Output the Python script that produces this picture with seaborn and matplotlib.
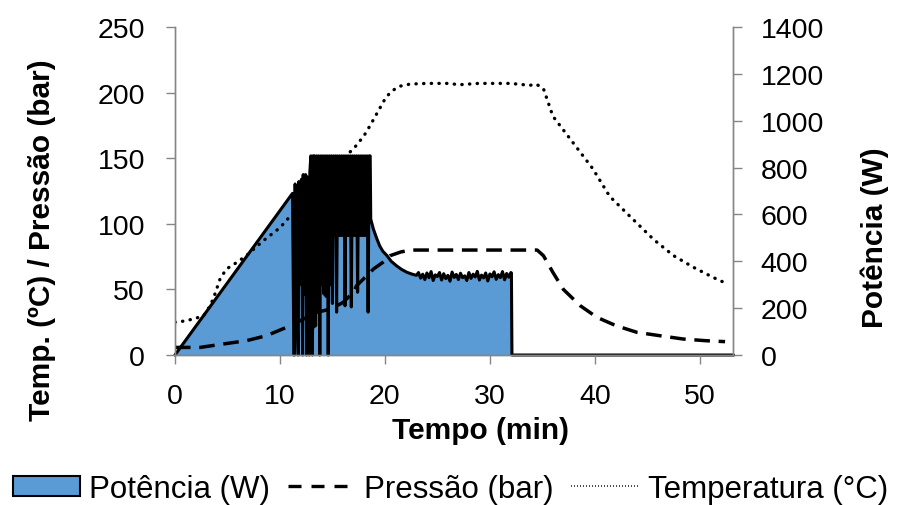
import matplotlib
matplotlib.use("Agg")
import matplotlib.pyplot as plt
from matplotlib.patches import Patch
from matplotlib.lines import Line2D
import seaborn as sns

# ── Data ──────────────────────────────────────────────────────────────────
# Temperatura (°C), left axis
temp_t = [0, 1, 2, 2.7, 3.0, 3.65, 4.3, 4.9, 5.9, 6.8, 8.4, 10, 11, 12, 13, 14, 15,
          16, 17, 18, 18.6, 19.3, 20, 20.5, 21, 21.5, 22.4, 24, 26, 27.1, 28.9, 30,
          32, 33.8, 34.4, 35.1, 36, 37.9, 39.8, 41.4, 43.3, 45.6, 47.5, 49.4, 51.3, 52.4]
temp_v = [25, 26, 28, 30, 32.5, 42.7, 58, 65.5, 70.6, 75.7, 87, 97, 106, 115, 124, 133, 142,
          150, 157, 167, 175, 185, 195, 200, 203, 205, 206.5, 207, 207, 206, 207, 207,
          207, 205.5, 206.5, 203, 182, 162, 142, 121, 106, 88, 75.7, 66.8, 59, 55]

# Pressão (bar), left axis
pres_t = [0, 2.4, 4.6, 6.8, 8.7, 10.6, 11, 13.5, 14.8, 16, 17, 17.3, 18.6, 18.9, 19.8,
          20.5, 21.5, 22.4, 25, 28, 31, 34.5, 35.1, 36, 37, 38.6, 40.2, 42, 44, 46.2,
          48.4, 50.6, 52.4]
pres_v = [5.8, 5.8, 8.4, 10.9, 14.7, 21, 22.4, 32.5, 35, 40, 47.8, 52.8, 63, 65.5, 70.6,
          75.7, 78.5, 80, 80, 80, 80, 80, 75.7, 63, 50, 37.6, 28.7, 22.4, 17.3, 14.7,
          12.2, 10.9, 10.2]

# Potência (W), right axis
pow_t = [0.0, 11.2, 11.33, 11.38, 11.45, 11.6, 11.75, 11.8, 11.9, 12.05, 12.16, 12.22,
         12.3, 12.45, 12.54, 12.6, 12.7, 12.79, 12.85, 12.95, 13.1, 13.16, 13.25,
         13.3, 13.4, 13.5, 13.6, 13.7, 13.8, 13.9, 14.0, 14.1, 14.2, 14.3, 14.4, 14.5,
         14.6, 14.7, 14.8, 14.9, 15.0, 15.1, 15.2, 15.3, 15.4, 15.5, 15.6, 15.7, 15.8,
         15.9, 16.0, 16.1, 16.2, 16.3, 16.4, 16.5, 16.6, 16.7, 16.8, 16.9, 17.0, 17.1,
         17.2, 17.3, 17.4, 17.5, 17.6, 17.7, 17.8, 17.9, 18.0, 18.1, 18.2, 18.3, 18.4,
         18.5, 18.6,
         18.65, 18.9, 19.2, 19.5, 19.8, 20.2, 20.6, 21.1, 21.6, 22.1, 22.6, 23.0,
         23.2, 23.4, 23.6, 23.8, 24.0, 24.2, 24.4, 24.6, 24.8, 25.0, 25.2, 25.4, 25.6,
         25.8, 26.0, 26.2, 26.4, 26.6, 26.8, 27.0, 27.2, 27.4, 27.6, 27.8, 28.0, 28.2,
         28.4, 28.6, 28.8, 29.0, 29.2, 29.4, 29.6, 29.8, 30.0, 30.2, 30.4, 30.6, 30.8,
         31.0, 31.2, 31.4, 31.6, 31.8, 32.0, 32.05, 32.1, 53.2]
pow_v = [0, 690, 0, 0, 730, 200, 0, 740, 300, 750, 0, 770, 260, 770, 0, 760, 330, 0, 780,
         850, 0, 850, 120,
         850, 125, 850, 196, 850, 0, 850, 300, 850, 260, 850, 250, 850,
         0, 850, 300, 850, 220, 850, 510, 850, 183, 850, 510, 850, 510,
         850, 510, 850, 210, 850, 510, 850, 510, 850, 205, 850, 510, 850,
         510, 850, 268, 850, 510, 850, 510, 850, 510, 850, 510, 850, 183,
         850, 850,
         580, 538, 500, 466, 443, 424, 400, 381, 365, 353, 345, 340,
         352, 328, 345, 322, 350, 330, 356, 318, 342, 335, 352, 320, 347,
         326, 340, 315, 354, 331, 344, 322, 349, 330, 338, 318, 352, 327,
         345, 333, 357, 320, 341, 329, 350, 316, 346, 334, 355, 323, 343,
         330, 356, 321, 348, 332, 352, 350, 0, 0]

x_ticks = [0, 10, 20, 30, 40, 50]
left_ticks = [0, 50, 100, 150, 200, 250]
right_ticks = [0, 200, 400, 600, 800, 1000, 1200, 1400]

BLUE = "#5B9BD5"
GREY = "#868686"

sns.set_theme(style="white")
plt.rcParams["font.family"] = ["Liberation Sans", "DejaVu Sans"]
plt.rcParams["text.color"] = "black"
plt.rcParams["axes.labelcolor"] = "black"

fig = plt.figure(figsize=(8.97, 5.06), dpi=100)
ax = fig.add_axes([0.195, 0.2964, 0.817 - 0.195, 0.9447 - 0.2964])
ax2 = ax.twinx()

# power: filled area + black outline on the right axis
ax2.fill_between(pow_t, 0, pow_v, color=BLUE, linewidth=0)
sns.lineplot(x=pow_t, y=pow_v, ax=ax2, color="black", linewidth=2.2,
             sort=False, estimator=None, clip_on=False)

# temperature & pressure on the left axis, drawn over the fill
sns.lineplot(x=pres_t, y=pres_v, ax=ax, color="black", linewidth=2.5,
             linestyle=(0, (4.5, 2.5)), sort=False, estimator=None)
sns.lineplot(x=temp_t, y=temp_v, ax=ax, color="black", linewidth=2.4,
             linestyle=(0, (0.1, 2.2)), dash_capstyle="round",
             sort=False, estimator=None)
ax.set_zorder(ax2.get_zorder() + 1)
ax.patch.set_visible(False)

ax.set_xlim(0, 53.14)
ax.set_ylim(0, 250)
ax2.set_ylim(0, 1400)
ax.set_xticks(x_ticks)
ax.set_yticks(left_ticks)
ax2.set_yticks(right_ticks)

for a in (ax, ax2):
    a.spines["top"].set_visible(False)
    for s in ("left", "right", "bottom"):
        a.spines[s].set_color(GREY)
        a.spines[s].set_linewidth(1.0)
    a.tick_params(axis="both", direction="out", length=6.5, width=1.0,
                  color=GREY, labelsize=20.5, labelcolor="black")
    a.grid(False)
ax.tick_params(axis="x", bottom=True, pad=14)
ax.tick_params(axis="y", left=True, right=False, labelleft=True, labelright=False, pad=15)
ax2.tick_params(axis="y", right=True, left=False, pad=13.5)

ax.set_xlabel("Tempo (min)", fontsize=21.5, fontweight="bold")
ax.set_ylabel("Temp. (ºC) / Pressão (bar)", fontsize=21.5, fontweight="bold")
ax2.set_ylabel("Potência (W)", fontsize=21.5, fontweight="bold")
ax.xaxis.set_label_coords(0.547, -0.186)
ax.yaxis.set_label_coords(-0.213, 0.354)
ax2.yaxis.set_label_coords(1.228, 0.36)

handles = [
    Patch(facecolor=BLUE, edgecolor="black", linewidth=1.5),
    Line2D([], [], color="black", linewidth=2.4, linestyle=(0, (3.9, 3.0))),
    Line2D([], [], color="black", linewidth=1.2, linestyle=(0, (0.5, 1.3))),
]
labels = ["Potência (W)", "Pressão (bar)", "Temperatura (°C)"]
fig.legend(handles, labels, loc="center", bbox_to_anchor=(0.502, 0.032), ncol=3,
           frameon=False, fontsize=22.5, handlelength=2.15, handleheight=0.62,
           handletextpad=0.3, columnspacing=0.55, borderaxespad=0, borderpad=0)

fig.savefig("out.png", dpi=100)
